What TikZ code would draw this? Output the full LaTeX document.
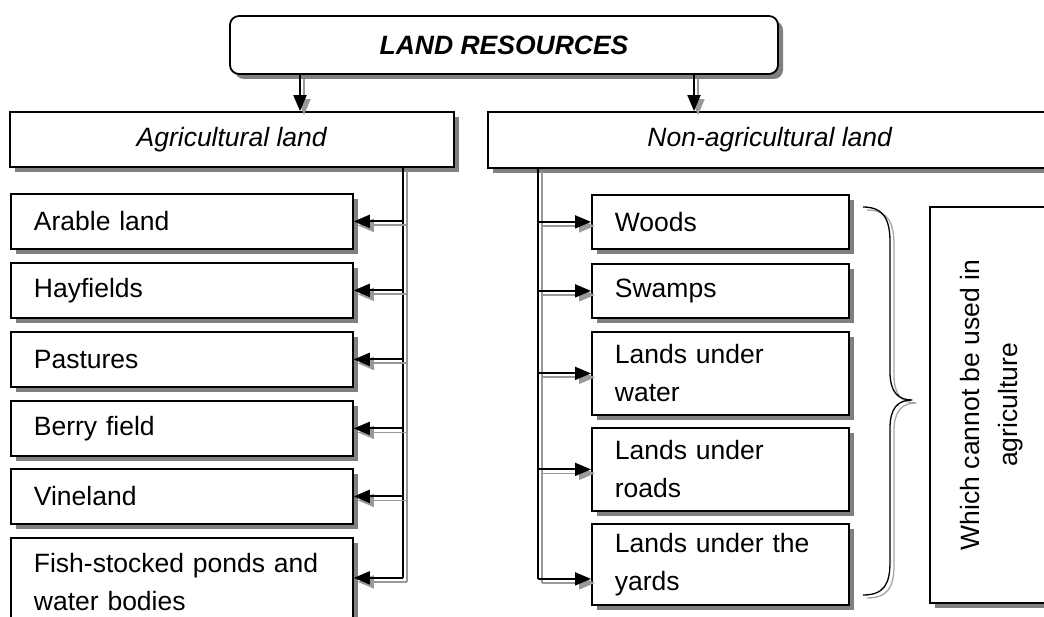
\documentclass[tikz,border=0pt]{standalone}
\usepackage{fontspec}
\setmainfont{Liberation Sans}
\usetikzlibrary{arrows.meta,shadows,calc}
\newcommand\twinarrow[2]{%
  \draw[shline,tipstyle,transform canvas={shift={(4pt,-4pt)}}] #1 -- #2;
  \draw[bkline,tipstyle] #1 -- #2;}
\newcommand\twinline[2]{%
  \draw[shline,transform canvas={shift={(4pt,-4pt)}}] #1 -- #2;
  \draw[bkline] #1 -- #2;}
\begin{document}
\begin{tikzpicture}[x=1pt,y=-1pt,
  every node/.style={font=\fontsize{26.5}{38}\selectfont},
  sh/.style={drop shadow={shadow xshift=5pt,shadow yshift=-5pt,fill=black!50,opacity=1}},
  box/.style={draw=black,line width=1.8pt,fill=white,sh,inner sep=0pt},
  lbox/.style={box,text width=296pt,inner xsep=23pt,align=left,anchor=north west,minimum height=#1},
  rbox/.style={box,text width=211pt,inner xsep=23pt,align=left,anchor=north west,minimum height=#1},
  shline/.style={line width=1.8pt,draw=black!40},
  bkline/.style={line width=2pt,draw=black},
  tipstyle/.style={-{Triangle[length=16pt,width=13pt]}},
  bracestyle/.style={line width=1.3pt,line join=round}
]
\clip (0,0) rectangle (1044,617);
\fill[white] (0,0) rectangle (1044,617);

% top
\node[box,rounded corners=9pt,minimum width=548pt,minimum height=58pt] (land) at (504,45) {\textbf{\textit{LAND RESOURCES}}};
\node[box,minimum width=444pt,minimum height=55pt] (agri) at (232,139.5) {\textit{Agricultural land}};
\node[box,minimum width=564pt,minimum height=56pt] (nonagri) at (770,140) {\textit{Non-agricultural land}};

% left boxes
\node[lbox=55pt] (arable) at (10,193) {Arable land};
\node[lbox=55pt] (hay) at (10,262) {Hayfields};
\node[lbox=55pt] (past) at (10,331) {Pastures};
\node[lbox=55pt] (berry) at (10,400) {Berry field};
\node[lbox=55pt] (vine) at (10,468) {Vineland};
\node[lbox=88pt] (fish) at (10,537) {Fish-stocked ponds and\\water bodies};

% right boxes
\node[rbox=54pt] (woods) at (591,194) {Woods};
\node[rbox=54pt] (swamps) at (591,263) {Swamps};
\node[rbox=83pt] (water) at (591,331) {\raisebox{-3pt}{Lands under}\\\raisebox{-3pt}{water}};
\node[rbox=83pt] (roads) at (591,427) {\raisebox{-3pt}{Lands under}\\\raisebox{-3pt}{roads}};
\node[rbox=81pt] (yards) at (591,523) {\raisebox{-3pt}{Lands under the}\\\raisebox{-3pt}{yards}};

% side box
\node[box,minimum width=122pt,minimum height=396pt] (which) at (991,405)
  {\rotatebox{90}{\begin{tabular}{@{}c@{}}Which cannot be used in\\agriculture\end{tabular}}};

% coordinates
\coordinate (ta) at (300,0);
\coordinate (tb) at (694,0);
\coordinate (lb) at (403,167);
\coordinate (rb) at (538,167);
\coordinate (fa) at ([yshift=4pt]fish.east);
\coordinate (ya) at ([yshift=-14.5pt]yards.west);

% top arrows
\twinarrow{(land.south -| ta)}{(agri.north -| ta)}
\twinarrow{(land.south -| tb)}{(nonagri.north -| tb)}

% left tree
\twinline{(lb)}{(fa -| lb)}
\twinarrow{(arable.east -| lb)}{(arable.east)}
\twinarrow{(hay.east -| lb)}{(hay.east)}
\twinarrow{(past.east -| lb)}{(past.east)}
\twinarrow{(berry.east -| lb)}{(berry.east)}
\twinarrow{(vine.east -| lb)}{(vine.east)}
\twinarrow{(fa -| lb)}{(fa)}

% right tree
\twinline{(rb)}{(ya -| rb)}
\twinarrow{(woods.west -| rb)}{(woods.west)}
\twinarrow{(swamps.west -| rb)}{(swamps.west)}
\twinarrow{(water.west -| rb)}{(water.west)}
\twinarrow{(roads.west -| rb)}{(roads.west)}
\twinarrow{(ya -| rb)}{(ya)}

% brace
\draw[bracestyle,draw=black!35,transform canvas={shift={(4pt,-3pt)}}]
  (863,207) .. controls (884,207) and (890,220) .. (890,242) -- (890,372)
  .. controls (890,392) and (898,400) .. (912,400)
  .. controls (898,400) and (890,408) .. (890,428) -- (890,562)
  .. controls (890,584) and (884,595) .. (863,595);
\draw[bracestyle,draw=black]
  (863,207) .. controls (884,207) and (890,220) .. (890,242) -- (890,372)
  .. controls (890,392) and (898,400) .. (912,400)
  .. controls (898,400) and (890,408) .. (890,428) -- (890,562)
  .. controls (890,584) and (884,595) .. (863,595);
\end{tikzpicture}
\end{document}
